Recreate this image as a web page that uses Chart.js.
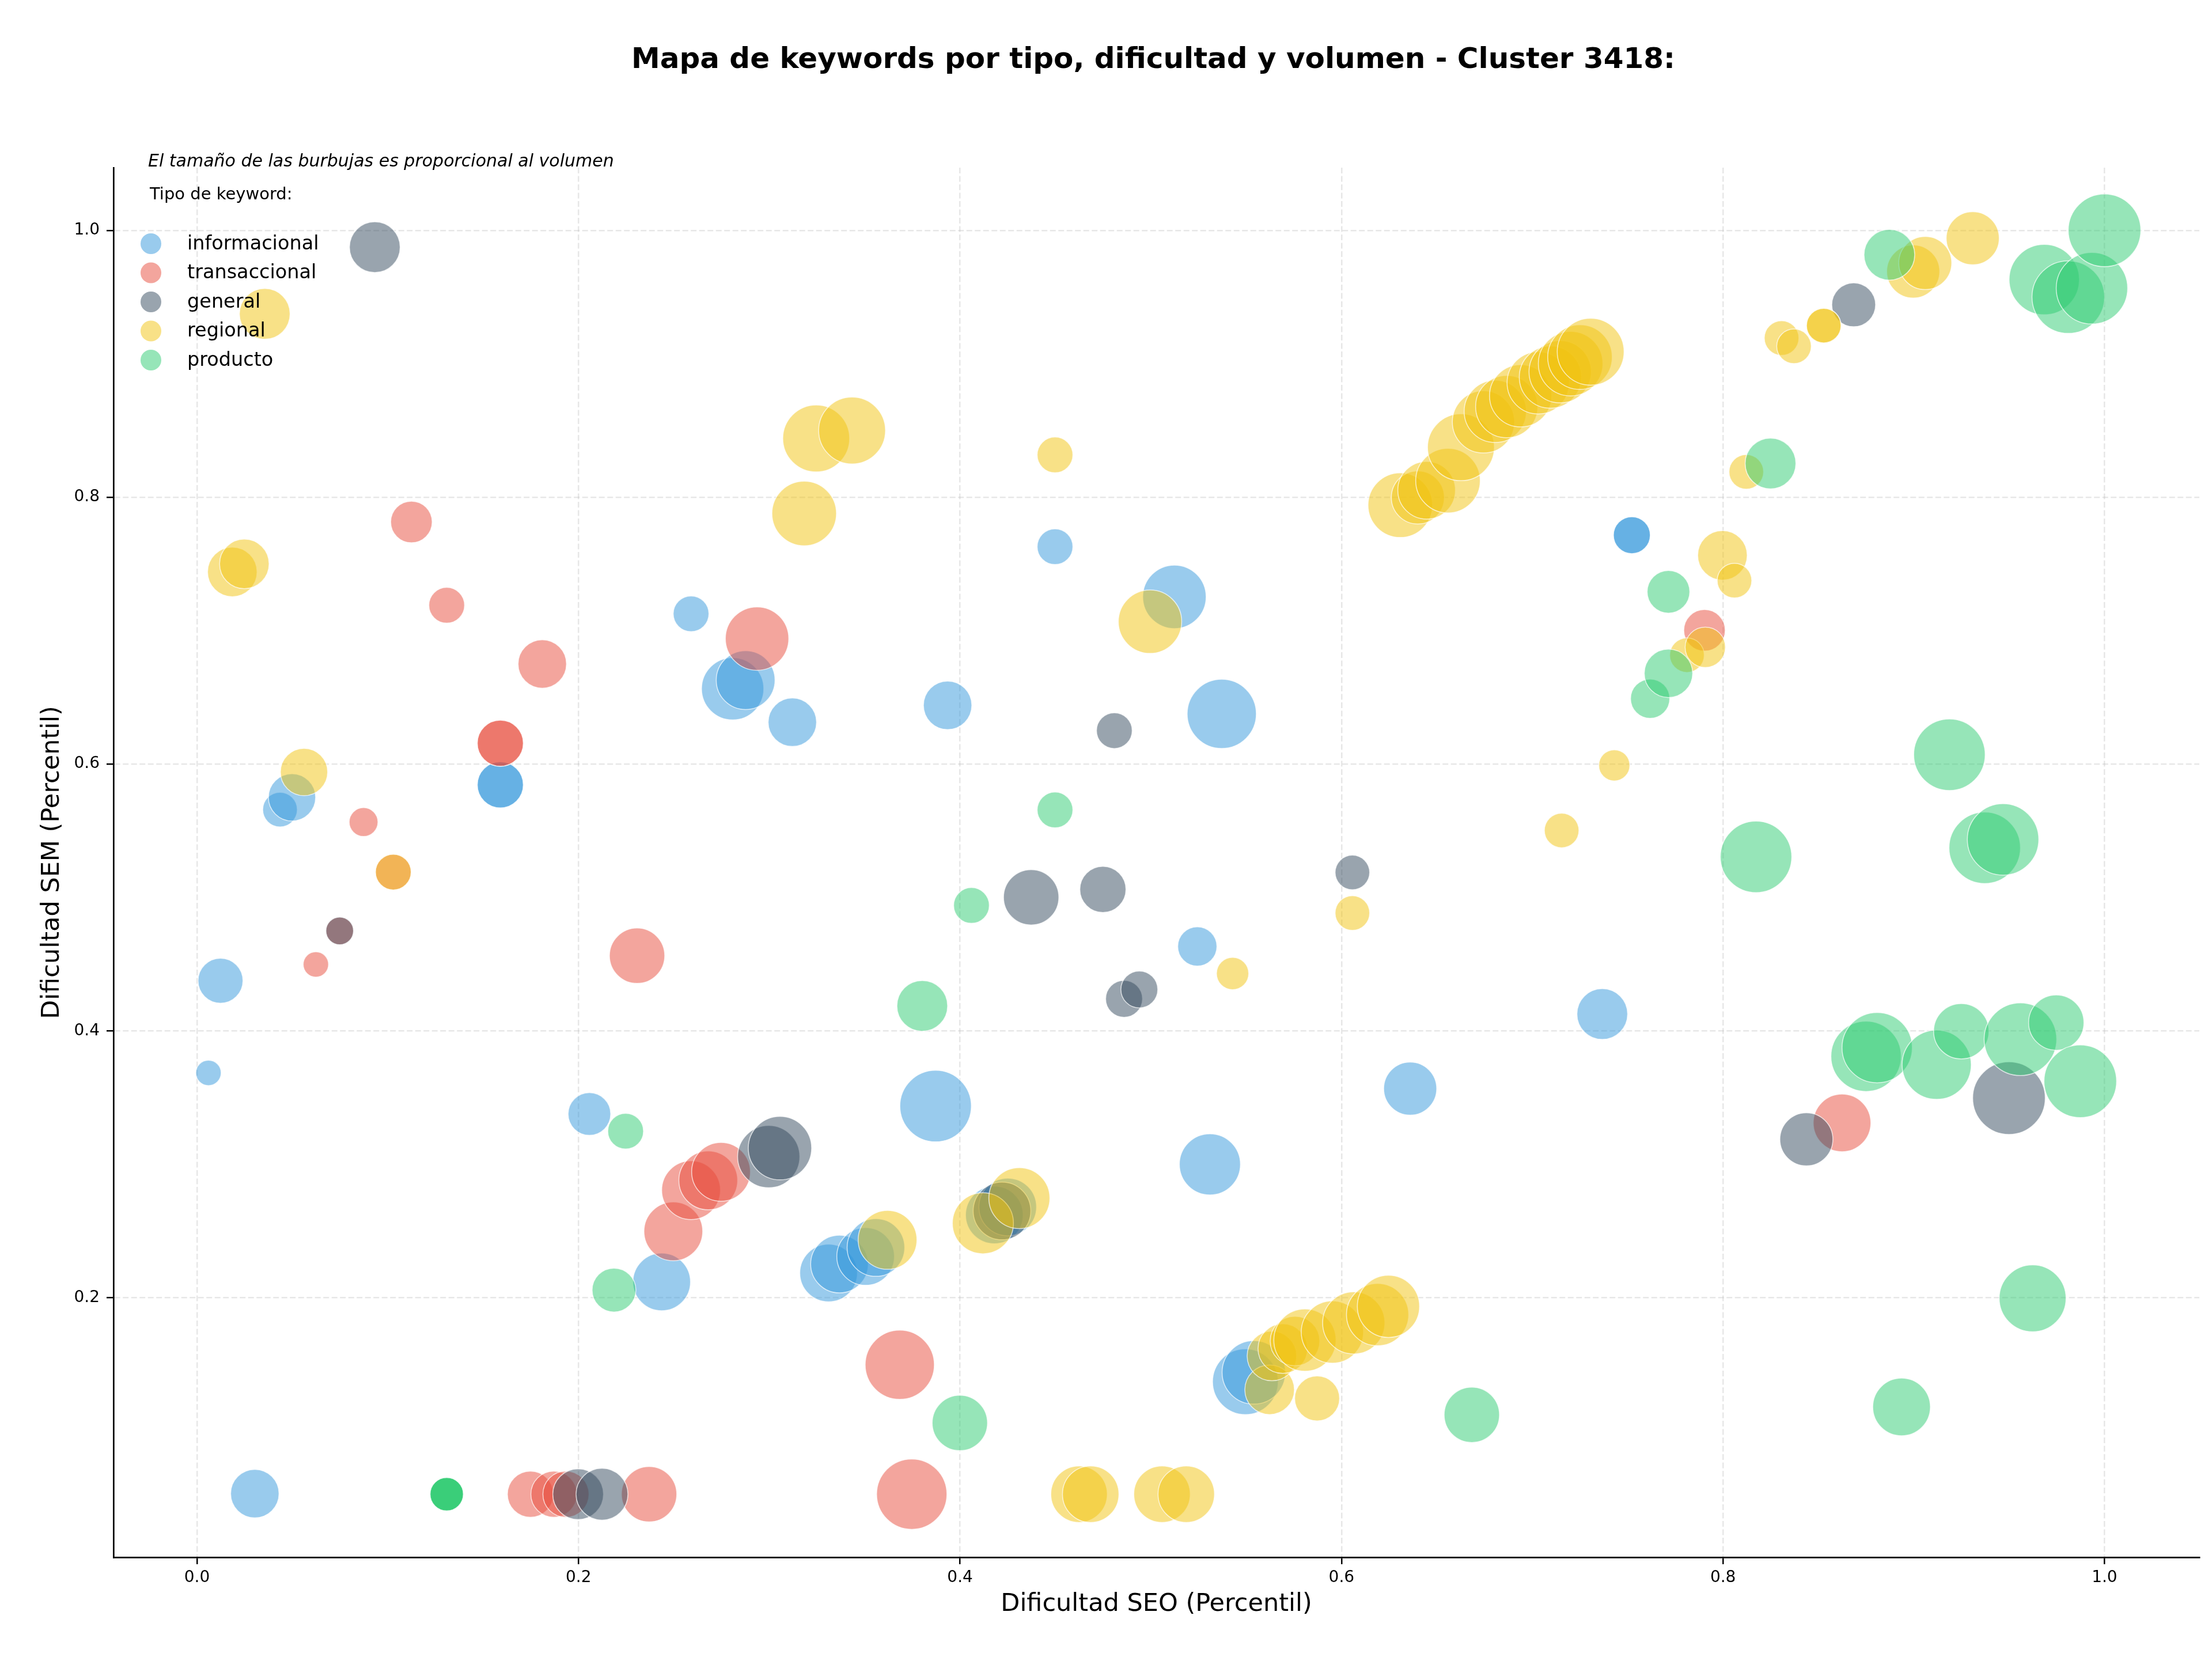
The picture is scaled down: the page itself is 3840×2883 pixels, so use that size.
<!DOCTYPE html>
<html><head><meta charset="utf-8">
<script src="https://cdn.jsdelivr.net/npm/chart.js@4/dist/chart.umd.min.js"></script>
<style>html,body{margin:0;padding:0;background:#fff;}canvas{display:block;}</style>
</head><body>
<canvas id="c" width="3840" height="2883"></canvas>
<script>
const titulo = 'Mapa de keywords por tipo, dificultad y volumen - Cluster 3418:';
const nota = 'El tamaño de las burbujas es proporcional al volumen';
const tituloLeyenda = 'Tipo de keyword:';
const categorias = ['informacional','transaccional','general','regional','producto'];
const colores = ['#3498db','#e74c3c','#34495e','#f1c40f','#2ecc71'];
const xTicks = [0.0,0.2,0.4,0.6,0.8,1.0];
const yTicks = [0.2,0.4,0.6,0.8,1.0];

// informacional
const infoSEO = [0.006,0.0123,0.0303,0.0435,0.0498,0.159,0.159,0.2057,0.2436,0.259,0.2808,0.2876,0.3121,0.3311,0.3368,0.3505,0.3559,0.3872,0.3935,0.418,0.425,0.4498,0.5124,0.5244,0.531,0.5372,0.5496,0.554,0.636,0.7367,0.7522,0.7522];
const infoSEM = [0.3685,0.4376,0.0531,0.5658,0.575,0.5844,0.5844,0.3377,0.2118,0.7126,0.6564,0.6629,0.6313,0.2185,0.2252,0.2309,0.2376,0.3436,0.644,0.262,0.268,0.7629,0.7253,0.4633,0.2999,0.6376,0.137,0.144,0.3567,0.4126,0.7715,0.7715];
const infoVol = [121,380,441,225,420,400,400,342,625,240,729,650,441,625,625,625,625,961,441,625,625,240,756,289,702,900,812,756,529,484,256,256];

// transaccional
const tranSEO = [0.0623,0.0748,0.0873,0.1029,0.1124,0.1309,0.159,0.159,0.1748,0.1871,0.1934,0.181,0.2307,0.237,0.2497,0.259,0.268,0.2747,0.2936,0.3684,0.3747,0.7903,0.8624];
const tranSEM = [0.4498,0.4749,0.5565,0.519,0.7814,0.719,0.6156,0.6156,0.0527,0.0527,0.0527,0.675,0.4563,0.0527,0.2497,0.2806,0.2879,0.2943,0.694,0.1497,0.0527,0.7002,0.331];
const tranVol = [121,144,156,240,324,240,400,400,400,400,400,441,576,576,650,650,650,650,756,900,930,324,625];

// general
const geneSEO = [0.0748,0.0932,0.1998,0.2123,0.2997,0.3056,0.422,0.4373,0.4749,0.4809,0.486,0.494,0.6057,0.8437,0.8685,0.9499];
const geneSEM = [0.4749,0.9874,0.0527,0.0527,0.3057,0.3121,0.265,0.5001,0.506,0.625,0.424,0.431,0.5187,0.3187,0.9442,0.3496];
const geneVol = [144,484,484,506,729,756,625,576,400,240,256,256,225,529,361,992];

// regional
const regiSEO = [0.0185,0.0248,0.0355,0.0561,0.1029,0.3183,0.3246,0.3434,0.362,0.412,0.4311,0.4498,0.4624,0.4685,0.4996,0.5059,0.5186,0.5429,0.5623,0.5635,0.5692,0.5756,0.5808,0.5872,0.5952,0.6057,0.6064,0.6189,0.6246,
  0.6308,0.6400,0.6446,0.6558,0.6626,0.6744,0.6806,0.6866,0.6939,0.7031,0.7095,0.7146,0.7201,0.725,0.7306,
  0.7154,0.743,0.7811,0.7907,0.7997,0.806,0.8122,0.8307,0.8372,0.8528,0.8528,0.8997,0.906,0.9309];
const regiSEM = [0.744,0.750,0.9374,0.594,0.519,0.7878,0.844,0.850,0.2433,0.2558,0.2746,0.8317,0.0527,0.0527,0.7067,0.0527,0.0527,0.443,0.131,0.1563,0.1618,0.1675,0.1682,0.1245,0.1742,0.4883,0.1811,0.1873,0.1935,
  0.794,0.7998,0.8052,0.8124,0.8374,0.8564,0.8643,0.8679,0.876,0.8857,0.890,0.894,0.9001,0.905,0.909,
  0.5502,0.599,0.6816,0.6875,0.7564,0.7375,0.819,0.9193,0.9131,0.9286,0.9286,0.9692,0.9755,0.9941];
const regiVol = [462,462,484,420,240,784,841,841,650,702,702,240,600,600,756,600,600,196,462,462,462,462,729,380,729,225,729,729,729,
  784,529,625,784,841,729,729,729,729,729,729,729,784,784,841,
  225,182,225,306,462,225,225,225,225,225,225,529,529,529];

// producto
const prodSEO = [0.1309,0.1309,0.1309,0.1309,0.2186,0.2247,0.3802,0.3999,0.406,0.4498,0.6683,0.7618,0.7714,0.7714,0.8173,0.8249,0.875,0.8808,0.8872,0.8936,0.912,0.9187,0.9249,0.9372,0.9468,0.9559,0.9623,0.9684,0.9747,0.981,0.9873,0.9934,1.0];
const prodSEM = [0.0527,0.0527,0.0527,0.0527,0.2057,0.3248,0.4187,0.1061,0.494,0.5656,0.1122,0.649,0.668,0.7291,0.5304,0.8253,0.3809,0.3874,0.9817,0.1181,0.3746,0.607,0.3997,0.5372,0.5435,0.3937,0.1995,0.9631,0.4062,0.950,0.3622,0.9566,1.0];
const prodVol = [210,210,210,210,361,240,484,576,240,240,576,289,441,342,961,484,930,930,484,625,900,961,576,961,961,992,841,930,576,992,992,961,992];

const series = [
  [infoSEO, infoSEM, infoVol],
  [tranSEO, tranSEM, tranVol],
  [geneSEO, geneSEM, geneVol],
  [regiSEO, regiSEM, regiVol],
  [prodSEO, prodSEM, prodVol]
];

function alpha(hex, a){
  const n = parseInt(hex.slice(1),16);
  return `rgba(${(n>>16)&255},${(n>>8)&255},${n&255},${a})`;
}
const radio = v => Math.sqrt(v) * 2;

const datasets = categorias.map((cat, i) => ({
  label: cat,
  data: series[i][0].map((x, j) => ({x: x, y: series[i][1][j], r: radio(series[i][2][j])})),
  backgroundColor: alpha(colores[i], 0.5),
  borderColor: 'rgba(255,255,255,0.7)',
  borderWidth: 1.5,
  order: categorias.length - i
}));

Chart.defaults.font.family = '"DejaVu Sans", sans-serif';
Chart.defaults.color = '#000';

const textos = {
  id: 'textos',
  afterDraw(chart) {
    const ctx = chart.ctx;
    ctx.save();
    ctx.fillStyle = '#000';
    ctx.textAlign = 'center';
    ctx.textBaseline = 'alphabetic';
    ctx.font = 'bold 50px "DejaVu Sans"';
    ctx.fillText(titulo, 2002, 118);
    ctx.textAlign = 'left';
    ctx.font = 'italic 30px "DejaVu Sans"';
    ctx.fillText(nota, 257, 289);
    ctx.font = '29px "DejaVu Sans"';
    ctx.fillText(tituloLeyenda, 260, 346);
    ctx.textBaseline = 'middle';
    ctx.font = '33.5px "DejaVu Sans"';
    categorias.forEach((cat, i) => {
      const cy = 423 + i * 50.5;
      ctx.beginPath();
      ctx.arc(262, cy, 18, 0, Math.PI * 2);
      ctx.fillStyle = alpha(colores[i], 0.5);
      ctx.fill();
      ctx.fillStyle = '#000';
      ctx.fillText(cat, 325, cy + 1);
    });
    ctx.restore();
  }
};

const gridOpts = {color: 'rgba(176,176,176,0.3)', lineWidth: 2.5, tickColor: '#000', tickLength: 12, tickWidth: 2.5, tickBorderDash: []};

new Chart(document.getElementById('c'), {
  type: 'bubble',
  data: {datasets},
  options: {
    responsive: false,
    animation: false,
    devicePixelRatio: 1,
    layout: {autoPadding: false, padding: {top: 291, left: 0, right: 22, bottom: 0}},
    plugins: {legend: {display: false}, tooltip: {enabled: false}, title: {display: false}},
    scales: {
      x: {
        type: 'linear', min: -0.0438, max: 1.0497,
        afterBuildTicks: s => { s.ticks = xTicks.map(v => ({value: v})); },
        afterFit: s => { s.height = 180; },
        ticks: {callback: v => Number(v).toFixed(1), font: {size: 28}, color: '#000', padding: 7, maxRotation: 0, autoSkip: false},
        grid: gridOpts,
        border: {display: true, color: '#000', width: 2.7, dash: [10, 4.5]},
        title: {display: true, text: 'Dificultad SEO (Percentil)', font: {size: 43}, color: '#000', padding: {top: 0, bottom: 72}}
      },
      y: {
        type: 'linear', min: 0.0054, max: 1.047,
        afterBuildTicks: s => { s.ticks = yTicks.map(v => ({value: v})); },
        afterFit: s => { s.width = 197; },
        ticks: {callback: v => Number(v).toFixed(1), font: {size: 28}, color: '#000', padding: 12, autoSkip: false},
        grid: gridOpts,
        border: {display: true, color: '#000', width: 2.7, dash: [10, 4.5]},
        title: {display: true, text: 'Dificultad SEM (Percentil)', font: {size: 43}, color: '#000', padding: {top: 65, bottom: 0}}
      }
    }
  },
  plugins: [textos]
});
</script>
</body></html>
